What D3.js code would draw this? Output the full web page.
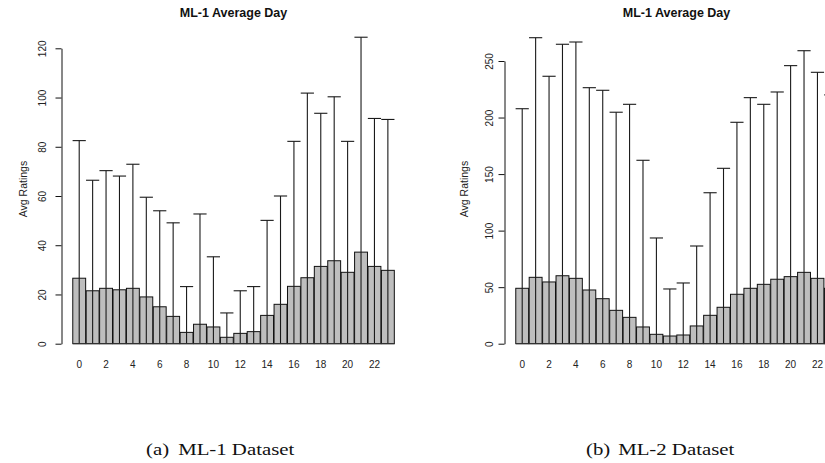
<!DOCTYPE html>
<html>
<head>
<meta charset="utf-8">
<script src="https://cdn.jsdelivr.net/npm/d3@7"></script>
<style>
  body { margin: 0; background: #fff; }
  svg { display: block; }
</style>
</head>
<body>
<div id="chart"></div>
<script>
// hours of the day
const hours = d3.range(24);

// ML-1: mean ratings per hour and the top of the error bar
const ml1Mean  = [26.6, 21.5, 22.5, 21.9, 22.5, 19.0, 15.0, 11.1, 4.6, 7.9, 6.8, 2.6,
                  4.2, 4.9, 11.5, 16.0, 23.3, 26.8, 31.4, 33.7, 29.0, 37.2, 31.4, 29.8];
const ml1Upper = [82.5, 66.4, 70.3, 68.1, 72.9, 59.5, 54.0, 49.1, 23.2, 52.7, 35.3, 12.5,
                  21.5, 23.2, 50.1, 60.0, 82.2, 101.8, 93.6, 100.3, 82.2, 124.5, 91.5, 91.1];
const ml1Ticks = [0, 20, 40, 60, 80, 100, 120];

// ML-2
const ml2Mean  = [49.0, 58.7, 54.6, 60.1, 57.8, 47.5, 39.8, 29.5, 23.3, 14.8, 8.3, 6.8,
                  7.7, 15.7, 25.1, 32.2, 43.7, 49.0, 52.5, 57.0, 59.3, 63.1, 57.8, 49.0];
const ml2Upper = [207.8, 270.6, 236.5, 264.8, 266.8, 226.4, 224.1, 204.7, 211.7, 162.2, 93.5, 48.4,
                  53.7, 86.4, 133.5, 155.1, 195.8, 217.6, 211.7, 222.6, 245.9, 259.1, 240.0, 220.0];
const ml2Ticks = [0, 50, 100, 150, 200, 250];

const titles   = ["ML-1 Average Day", "ML-1 Average Day"];
const captions = [["(a)", "ML-1 Dataset"], ["(b)", "ML-2 Dataset"]];

const W = 825, H = 463;
const font = "'Liberation Sans', Arial, Helvetica, sans-serif";

const svg = d3.select("#chart").append("svg")
  .attr("width", W)
  .attr("height", H)
  .attr("font-family", font);

function drawPanel(cfg) {
  const g = svg.append("g");

  const x = d3.scaleBand()
    .domain(hours)
    .range([cfg.x0, cfg.x0 + 24 * 13.42])
    .paddingInner(0.04)
    .paddingOuter(0.02);

  const y = d3.scaleLinear()
    .domain([0, cfg.ticks[cfg.ticks.length - 1]])
    .range([343.7, cfg.yTop]);

  // bars
  g.append("g").selectAll("rect")
    .data(hours)
    .join("rect")
      .attr("x", d => x(d))
      .attr("y", d => y(cfg.mean[d]))
      .attr("width", x.bandwidth())
      .attr("height", d => y(0) - y(cfg.mean[d]))
      .attr("fill", "#bebebe")
      .attr("stroke", "#111")
      .attr("stroke-width", 1);

  // error bars (drawn from the baseline up, as in the original)
  const err = g.append("g")
    .attr("stroke", "#1a1a1a")
    .attr("stroke-width", 1.1)
    .selectAll("g")
    .data(hours)
    .join("g");

  err.append("line")
    .attr("x1", d => x(d) + x.bandwidth() / 2)
    .attr("x2", d => x(d) + x.bandwidth() / 2)
    .attr("y1", y(0))
    .attr("y2", d => y(cfg.upper[d]));

  err.append("line")
    .attr("x1", d => x(d) + x.bandwidth() / 2 - 6.6)
    .attr("x2", d => x(d) + x.bandwidth() / 2 + 6.6)
    .attr("y1", d => y(cfg.upper[d]))
    .attr("y2", d => y(cfg.upper[d]));

  // baseline
  g.append("line")
    .attr("x1", x.range()[0] + 0.5)
    .attr("x2", x.range()[1])
    .attr("y1", y(0))
    .attr("y2", y(0))
    .attr("stroke", "#333")
    .attr("stroke-width", 1);

  // y axis
  const yAxis = g.append("g")
    .attr("transform", `translate(${cfg.axisX},0)`)
    .call(d3.axisLeft(y).tickValues(cfg.ticks).tickSize(6).tickSizeOuter(0));
  yAxis.select(".domain").attr("stroke", "#111");
  yAxis.selectAll(".tick line").attr("stroke", "#111");
  yAxis.selectAll(".tick text")
    .attr("font-family", font)
    .attr("font-size", 10)
    .attr("fill", "#222")
    .attr("x", 0)
    .attr("dy", "0.35em")
    .attr("text-anchor", "middle")
    .attr("transform", `translate(${cfg.tickLabelX - cfg.axisX},0) rotate(-90)`);

  // x labels (every second hour, like R drops the crowded ones)
  g.append("g").selectAll("text")
    .data(hours.filter(h => h % 2 === 0))
    .join("text")
      .attr("x", d => x(d) + x.bandwidth() / 2)
      .attr("y", 364)
      .attr("dy", "0.35em")
      .attr("text-anchor", "middle")
      .attr("font-size", 10)
      .attr("fill", "#222")
      .text(d => d);

  // axis title
  g.append("text")
    .attr("transform", `translate(${cfg.labelX},189) rotate(-90)`)
    .attr("dy", "0.35em")
    .attr("text-anchor", "middle")
    .attr("font-size", 10.5)
    .attr("fill", "#222")
    .text("Avg Ratings");

  // title
  g.append("text")
    .attr("x", (x.range()[0] + x.range()[1]) / 2)
    .attr("y", 17)
    .attr("text-anchor", "middle")
    .attr("font-size", 12.5)
    .attr("font-weight", "bold")
    .attr("fill", "#111")
    .text(cfg.title);

  // caption below, glyphs a bit wider than Liberation Serif
  const cap = g.append("g")
    .attr("transform", `translate(${cfg.capX},455) scale(1.19,1)`)
    .attr("font-family", "'Liberation Serif', 'Times New Roman', serif")
    .attr("font-size", 17.5)
    .attr("fill", "#111");
  cap.append("text")
    .attr("x", 0)
    .text(cfg.caption[0]);
  cap.append("text")
    .attr("x", 27)
    .text(cfg.caption[1]);
}

drawPanel({
  x0: 72.5, axisX: 61.5, tickLabelX: 42, labelX: 23.5, yTop: 48.3,
  mean: ml1Mean, upper: ml1Upper, ticks: ml1Ticks,
  title: titles[0], caption: captions[0], capX: 146
});

drawPanel({
  x0: 515.5, axisX: 504.5, tickLabelX: 489, labelX: 464, yTop: 61,
  mean: ml2Mean, upper: ml2Upper, ticks: ml2Ticks,
  title: titles[1], caption: captions[1], capX: 586
});
</script>
</body>
</html>
